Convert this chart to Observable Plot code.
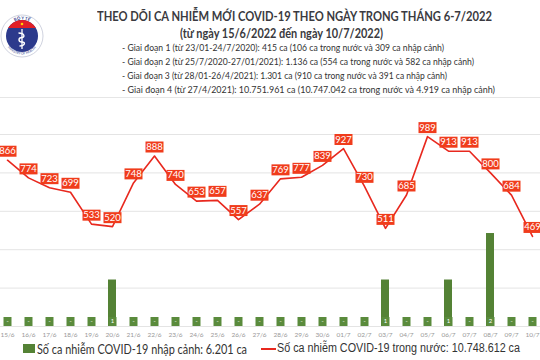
<!DOCTYPE html>
<html><head><meta charset="utf-8">
<script src="https://cdn.jsdelivr.net/npm/d3@7"></script>
<script src="https://cdn.jsdelivr.net/npm/@observablehq/plot@0.6"></script>
<style>
body{margin:0;background:#fff;}
#wrap{position:relative;width:540px;height:360px;overflow:hidden;background:#fff;font-family:Lato,"Noto Sans",sans-serif;color:#333;}
#logo{position:absolute;left:0px;top:14px;}
.fit{position:absolute;white-space:nowrap;display:inline-block;transform-origin:0 50%;}
#title{top:8px;font-weight:700;font-size:13.5px;color:#3a3a40;}
#subtitle{top:25px;font-weight:700;font-size:13px;color:#3a3a40;}
.note{font-size:9.8px;color:#333;}
#sep{position:absolute;left:0;top:97px;width:540px;height:1px;background:#e6e6e6;}
.layer{position:absolute;left:0;top:100px;}
.lg1{top:341px;font-family:Lato,sans-serif;font-size:13px;color:#333;}
.lg2{top:341px;font-family:"Liberation Sans",Arial,sans-serif;font-size:12.5px;color:#333;}
.sw1{position:absolute;left:23px;top:344px;width:12px;height:9px;background:#548235;}
.sw2{position:absolute;left:261px;top:348px;width:15px;height:2px;background:#e8281e;}
</style></head><body>
<div id="wrap">
  <svg id="logo" width="44" height="44" viewBox="0 0 44 44">
    <defs>
      <clipPath id="inner"><circle cx="22" cy="22" r="16"/></clipPath>
      <path id="arcTop" d="M5.5,22 A16.5,16.5 0 0 1 38.5,22"/>
      <path id="arcBot" d="M4.5,23 A17.5,17.5 0 0 0 39.5,23"/>
    </defs>
    <circle cx="22" cy="22" r="21" fill="#fff" stroke="#c3c6d6" stroke-width="0.8"/>
    <circle cx="22" cy="22" r="16" fill="#2c3a8c"/>
    <g clip-path="url(#inner)">
      <rect x="4" y="5" width="36" height="9" fill="#e21f26"/>
    </g>
    <circle cx="22" cy="10" r="1.3" fill="#ffd400"/>
    <path d="M22,15 L22,35" stroke="#fff" stroke-width="1.3"/>
    <path d="M18.5,19 C25,19 25,23.5 22,23.5 C18,23.5 18,28 22,28 C26,28 25,32 19.5,32" fill="none" stroke="#fff" stroke-width="1.4"/>
    <text font-size="4.2" font-weight="700" fill="#2c3a8c"><textPath href="#arcTop" startOffset="50%" text-anchor="middle">BỘ Y TẾ</textPath></text>
    <text font-size="3.2" fill="#2c3a8c"><textPath href="#arcBot" startOffset="50%" text-anchor="middle">MINISTRY OF HEALTH</textPath></text>
  </svg>
  <div id="header"></div>
  <div id="sep"></div>
  <div id="lineLayer" class="layer"></div>
  <div id="barLayer" class="layer"></div>
  <div id="legend"></div>
</div>
<script>
const days = ["15/6","16/6","17/6","18/6","19/6","20/6","21/6","22/6","23/6","24/6","25/6","26/6","27/6","28/6","29/6","30/6","01/7","02/7","03/7","04/7","05/7","06/7","07/7","08/7","09/7","10/7"];
const domestic = [866,774,723,699,533,520,748,888,740,653,657,557,637,769,777,839,927,730,511,685,989,913,913,800,684,469];
const imported = [0,0,0,0,0,1,0,0,0,0,0,0,0,0,0,0,0,0,1,0,0,1,0,2,0,0];
const gridValues = [0,200,400,600,800,1000];
const titleText = "THEO DÕI CA NHIỄM MỚI COVID-19 THEO NGÀY TRONG THÁNG 6-7/2022";
const subtitleText = "(từ ngày 15/6/2022 đến ngày 10/7/2022)";
const noteLines = [
  "- Giai đoạn 1 (từ 23/01-24/7/2020): 415 ca (106 ca trong nước và 309 ca nhập cảnh)",
  "- Giai đoạn 2 (từ 25/7/2020-27/01/2021): 1.136 ca (554 ca trong nước và 582 ca nhập cảnh)",
  "- Giai đoạn 3 (từ 28/01-26/4/2021): 1.301 ca (910 ca trong nước và 391 ca nhập cảnh)",
  "- Giai đoạn 4 (từ 27/4/2021): 10.751.961 ca (10.747.042 ca trong nước và 4.919 ca nhập cảnh)"
];
const legendImported = "Số ca nhiễm COVID-19 nhập cảnh: 6.201 ca";
const legendDomestic = "Số ca nhiễm COVID-19 trong nước: 10.748.612 ca";

// place a text span, scaling it horizontally to span [x0, x1]
function placeText(parent, text, cls, x0, x1, top, id) {
  const el = document.createElement("div");
  el.className = "fit " + cls;
  if (id) el.id = id;
  el.textContent = text;
  el.style.left = x0 + "px";
  if (top != null) el.style.top = top + "px";
  parent.append(el);
  const w = el.getBoundingClientRect().width;
  el.style.transform = `scaleX(${(x1 - x0) / w})`;
  return el;
}
const header = document.getElementById("header");
placeText(header, titleText, "", 97, 492, null, "title");
placeText(header, subtitleText, "", 180, 383, null, "subtitle");
const noteEnds = [444, 474, 447, 495];
noteLines.forEach((s, i) => placeText(header, s, "note", 122, noteEnds[i], 41 + i * 14.1));
const legend = document.getElementById("legend");
legend.innerHTML = `<div class="sw1"></div><div class="sw2"></div>`;
placeText(legend, legendImported, "lg1", 37, 247);
placeText(legend, legendDomestic, "lg2", 277, 520);

const table = days.map((d, i) => ({
  day: d, dom: domestic[i], imp: imported[i],
  impLabel: imported[i] === 0 ? "-" : String(imported[i])
}));

const boxRed = {draw(ctx) { ctx.rect(-9, -5.5, 18, 11); }};
const boxGreen = {draw(ctx) { ctx.rect(-4, -4.5, 8, 9); }};

const W = 540, H = 242, MT = 34, MB = 16;
const xBase = {type: "band", domain: days, range: [-5.6, 545.6], paddingInner: 0.6, paddingOuter: 0.3};

const linePlot = Plot.plot({
  width: W, height: H, marginTop: MT, marginBottom: MB, marginLeft: 0, marginRight: 0,
  x: {...xBase, axis: null},
  y: {domain: [0, 1000], axis: null},
  style: {background: "transparent", overflow: "visible", fontFamily: "Lato, sans-serif"},
  marks: [
    Plot.ruleY(gridValues, {stroke: "#e4e4e4", strokeWidth: 1}),
    Plot.line(table, {x: "day", y: "dom", stroke: "#e8281e", strokeWidth: 1.6}),
    Plot.dot(table, {x: "day", y: "dom", symbol: boxRed, fill: "#f03c1c", stroke: "none", dy: -9}),
    Plot.text(table, {x: "day", y: "dom", text: d => String(d.dom), fill: "#fff", fontSize: 9.5, dy: -9})
  ]
});
document.getElementById("lineLayer").append(linePlot);

const barPlot = Plot.plot({
  width: W, height: H, marginTop: MT, marginBottom: MB, marginLeft: 0, marginRight: 0,
  x: {...xBase, axis: "bottom", tickSize: 0, tickPadding: 6, label: null},
  y: {domain: [0, 4.13], axis: null},
  style: {background: "transparent", overflow: "visible", fontFamily: "Lato, sans-serif", fontSize: "6.5px", color: "#999"},
  marks: [
    Plot.barY(table, {x: "day", y: "imp", fill: "#548235"}),
    Plot.dot(table, {x: "day", y: 0, symbol: boxGreen, fill: "#5a8b3c", stroke: "none", dy: -5}),
    Plot.text(table, {x: "day", y: 0, text: "impLabel", fill: "#fff", fontSize: 6, dy: -5})
  ]
});
document.getElementById("barLayer").append(barPlot);
</script>
</body></html>
